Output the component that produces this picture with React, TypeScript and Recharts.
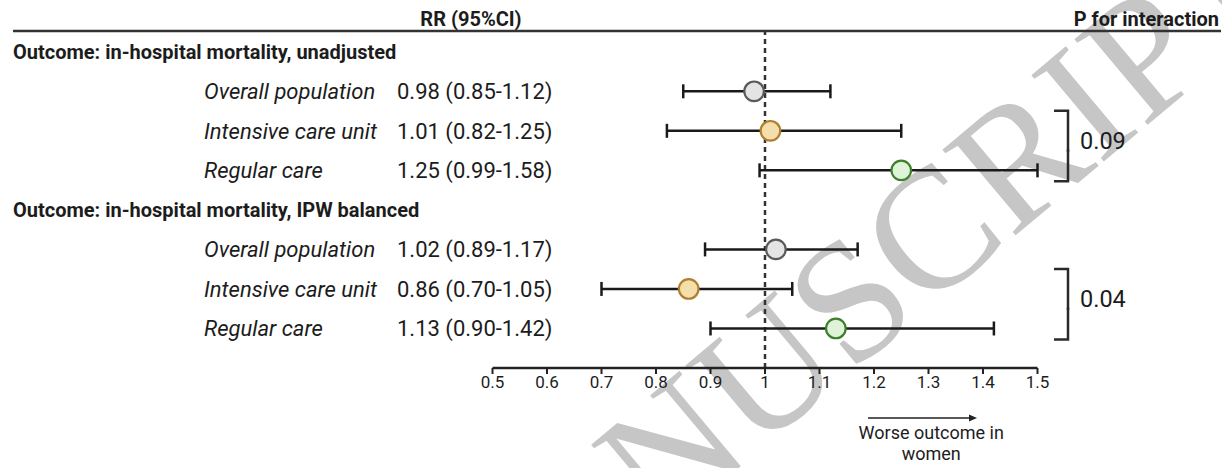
import React from 'react';
import { ScatterChart, Scatter, XAxis, YAxis, ReferenceLine, ErrorBar } from 'recharts';

// ---------- data ----------
const rowLabels = [
  'Outcome: in-hospital mortality, unadjusted',
  'Overall population',
  'Intensive care unit',
  'Regular care',
  'Outcome: in-hospital mortality, IPW balanced',
  'Overall population',
  'Intensive care unit',
  'Regular care',
];
const rowIsHeader = [true, false, false, false, true, false, false, false];
const subgroups = ['', 'overall', 'icu', 'regular', '', 'overall', 'icu', 'regular'];
const rrValues: (number | null)[] = [null, 0.98, 1.01, 1.25, null, 1.02, 0.86, 1.13];
const ciLower: (number | null)[] = [null, 0.85, 0.82, 0.99, null, 0.89, 0.7, 0.9];
const ciUpper: (number | null)[] = [null, 1.12, 1.25, 1.58, null, 1.17, 1.05, 1.42];
const pInteractionRows = [[2, 3], [6, 7]];
const pInteractionValues = ['0.09', '0.04'];
const xTicks = [0.5, 0.6, 0.7, 0.8, 0.9, 1, 1.1, 1.2, 1.3, 1.4, 1.5];
const xDomain: [number, number] = [0.5, 1.5];
const nullValue = 1;
const headerLeft = 'RR (95%CI)';
const headerRight = 'P for interaction';
const directionLines = ['Worse outcome in', 'women'];
const watermarkText = 'MANUSCRIPT';

// ---------- styles ----------
const FONT = 'Roboto, "Noto Sans", sans-serif';
const INK = '#1c1c1c';
const groupColors: Record<string, { fill: string; stroke: string }> = {
  overall: { fill: '#e4e4e4', stroke: '#5a5a5a' },
  icu: { fill: '#f4dfac', stroke: '#b07f2e' },
  regular: { fill: '#dff3d8', stroke: '#3f7f2a' },
};

const points = rrValues
  .map((rr, i) => {
    if (rr == null) return null;
    const lo = ciLower[i] as number;
    const hi = ciUpper[i] as number;
    return {
      row: i,
      rr,
      group: subgroups[i],
      err: [rr - lo, Math.min(hi, xDomain[1]) - rr],
    };
  })
  .filter(Boolean) as { row: number; rr: number; group: string; err: number[] }[];

const fmt = (v: number | null) => (v == null ? '' : v.toFixed(2));

const RowTick = (props: any) => {
  const { y, payload } = props;
  const i = Number(payload.value);
  if (rowIsHeader[i]) {
    return (
      <text x={13} y={y} dy="0.35em" fontFamily={FONT} fontSize={20} fontWeight={700} fill={INK}>
        {rowLabels[i]}
      </text>
    );
  }
  const ci = `${fmt(rrValues[i])} (${fmt(ciLower[i])}-${fmt(ciUpper[i])})`;
  const gTop = pInteractionRows.findIndex((r) => r[0] === i);
  const gBottom = pInteractionRows.findIndex((r) => r[r.length - 1] === i);
  const bx = 1068;
  return (
    <g>
      <text x={204} y={y} dy="0.35em" fontFamily={FONT} fontSize={22} fontStyle="italic" fill={INK}>
        {rowLabels[i]}
      </text>
      <text x={397} y={y} dy="0.35em" fontFamily={FONT} fontSize={22} fill={INK}>
        {ci}
      </text>
      {gTop >= 0 && (
        <g>
          <polyline
            points={`${bx - 14},${y - 20} ${bx},${y - 20} ${bx},${y + 21}`}
            fill="none"
            stroke="#2a2a2a"
            strokeWidth={2.5}
          />
          <text x={bx + 12} y={y + 10} dy="0.35em" fontFamily={FONT} fontSize={23.5} fill={INK}>
            {pInteractionValues[gTop]}
          </text>
        </g>
      )}
      {gBottom >= 0 && (
        <polyline
          points={`${bx},${y - 21} ${bx},${y + 11} ${bx - 14},${y + 11}`}
          fill="none"
          stroke="#2a2a2a"
          strokeWidth={2.5}
        />
      )}
    </g>
  );
};

const HeaderLabel = (props: any) => {
  const top = props?.viewBox?.y ?? 32;
  return (
    <g>
      <text x={471} y={top - 6} textAnchor="middle" fontFamily={FONT} fontSize={20} fontWeight={700} fill={INK}>
        {headerLeft}
      </text>
      <text x={1219} y={top - 6} textAnchor="end" fontFamily={FONT} fontSize={20} fontWeight={700} fill={INK}>
        {headerRight}
      </text>
      <line x1={13} x2={1221} y1={top - 1} y2={top - 1} stroke="#333" strokeWidth={2.5} />
    </g>
  );
};

const DirectionLabel = (props: any) => {
  const vb = props?.viewBox ?? { x: 492.5, y: 368, width: 545 };
  const x0 = vb.x + vb.width * 0.689;
  const x1 = vb.x + vb.width * 0.889;
  const cx = vb.x + vb.width * 0.805;
  const ay = vb.y + 50;
  return (
    <g>
      <line x1={x0} x2={x1 - 6} y1={ay} y2={ay} stroke="#222" strokeWidth={1.5} />
      <polygon points={`${x1},${ay} ${x1 - 8},${ay - 3.5} ${x1 - 8},${ay + 3.5}`} fill="#222" />
      {directionLines.map((t, k) => (
        <text
          key={k}
          x={cx}
          y={ay + 15 + k * 21}
          dy="0.35em"
          textAnchor="middle"
          fontFamily={FONT}
          fontSize={18}
          fill={INK}
        >
          {t}
        </text>
      ))}
    </g>
  );
};

const Marker = (props: any) => {
  const { cx, cy, payload } = props;
  const c = groupColors[payload.group] ?? groupColors.overall;
  return <circle cx={cx} cy={cy} r={9.8} fill={c.fill} stroke={c.stroke} strokeWidth={2.2} />;
};

export default function App() {
  return (
    <div
      style={{
        position: 'absolute',
        left: 0,
        top: 0,
        width: 1222,
        height: 468,
        background: '#fff',
        overflow: 'hidden',
      }}
    >
      <svg width={1222} height={468} style={{ position: 'absolute', left: 0, top: 0 }}>
        <text
          x={872}
          y={356}
          textAnchor="middle"
          transform="rotate(-40 872 356)"
          fontFamily='"Liberation Serif", "DejaVu Serif", serif'
          fontSize={172}
          fill="#c6c6c6"
        >
          {watermarkText}
        </text>
      </svg>
      <div style={{ position: 'absolute', left: 0, top: 0 }}>
        <ScatterChart width={1222} height={468} margin={{ top: 32, right: 184.5, bottom: 0, left: 0 }}>
          <XAxis
            type="number"
            dataKey="rr"
            domain={xDomain}
            ticks={xTicks}
            interval={0}
            allowDataOverflow
            height={100}
            tickSize={6}
            tickFormatter={(v: number) => String(+v.toFixed(1))}
            tick={{ fontFamily: FONT, fontSize: 17, fill: INK }}
            axisLine={{ stroke: '#222', strokeWidth: 2.5 }}
            tickLine={{ stroke: '#222', strokeWidth: 2 }}
            label={<DirectionLabel />}
          />
          <YAxis
            type="number"
            dataKey="row"
            domain={[-0.5, 8]}
            reversed
            ticks={[0, 1, 2, 3, 4, 5, 6, 7]}
            interval={0}
            width={492.5}
            axisLine={false}
            tickLine={false}
            tick={<RowTick />}
            label={<HeaderLabel />}
          />
          <ReferenceLine x={nullValue} stroke="#333" strokeWidth={2.5} strokeDasharray="5 4" />
          <Scatter data={points} shape={<Marker />} isAnimationActive={false}>
            <ErrorBar dataKey="err" direction="x" width={7} stroke="#1a1a1a" strokeWidth={2.5} />
          </Scatter>
        </ScatterChart>
      </div>
    </div>
  );
}
